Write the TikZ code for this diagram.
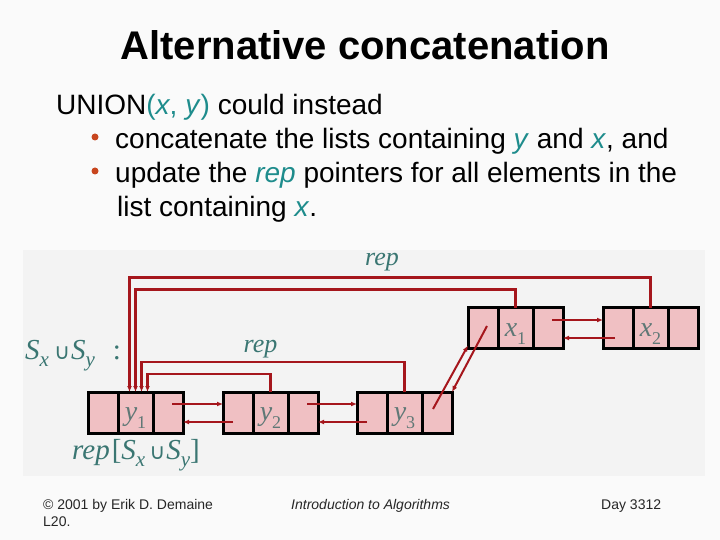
\documentclass[tikz,border=0pt]{standalone}
\usepackage{fontspec}
\setmainfont{Liberation Sans}
\newfontfamily\tms{Liberation Serif}
\newfontfamily\djv{DejaVu Sans}
\usetikzlibrary{arrows.meta,calc}
\definecolor{repred}{RGB}{165,22,28}
\definecolor{pinkc}{RGB}{240,192,195}
\definecolor{labteal}{RGB}{58,118,114}
\definecolor{cellgray}{RGB}{95,120,118}
\definecolor{bodyteal}{RGB}{30,140,140}
\definecolor{bulletc}{RGB}{200,70,30}
\definecolor{bgc}{RGB}{250,250,250}
\definecolor{panelc}{RGB}{243,243,243}
\newcommand\listelem[4]{%
  \node[cell,minimum width=30] (#1a) at (#2+15,#3) {};
  \node[cell,minimum width=35] (#1b) at (#2+47.5,#3) {};
  \node[cell,minimum width=30] (#1c) at (#2+80,#3) {};
  \node[celltext,anchor=base] (#1t) at ($(#1b.center)+(0,8)$) {#4};
}
\newcommand\celllab[2]{\textit{#1}\raisebox{-8pt}{\fontsize{18}{18}\selectfont #2}}
\newcommand\subx[1]{\raisebox{-7pt}{\fontsize{21}{21}\selectfont\textit{#1}}}
\newcommand\cupsym{{\djv\fontsize{22}{22}\selectfont ∪}}
\begin{document}
\begin{tikzpicture}[x=1pt,y=-1pt,
  cell/.style={draw=black,line width=3pt,fill=pinkc,minimum height=41,inner sep=0pt,outer sep=0pt},
  celltext/.style={font=\tms\fontsize{28}{28}\selectfont,text=cellgray,inner sep=0pt},
  lab/.style={font=\tms\fontsize{26}{26}\selectfont,text=labteal,inner sep=0pt},
  biglab/.style={font=\tms\fontsize{29}{29}\selectfont,text=labteal,inner sep=0pt},
  repline/.style={draw=repred,line width=2.5pt,-{Latex[length=6pt,width=5pt]}},
  ptr/.style={draw=repred,line width=2pt,-{Latex[length=6pt,width=5pt]}},
  body/.style={font=\fontsize{28}{34}\selectfont,inner sep=0pt,anchor=base west},
  foot/.style={font=\fontsize{14}{16}\selectfont,text=black!85,inner sep=0pt,anchor=base west},
  bul/.style={fill=bulletc,circle,inner sep=0pt,minimum size=7}
]
\fill[bgc] (0,0) rectangle (720,540);
\useasboundingbox (0,0) rectangle (720,540);
\fill[panelc] (23,250) rectangle (705,476);

% title
\node[font=\bfseries\fontsize{40}{48}\selectfont,inner sep=0pt,anchor=base] (title) at (365,60) {Alternative concatenation};

% body text
\node[body] (l1) at (56,115) {UNION\textcolor{bodyteal}{(\textit{x}, \textit{y})} could instead};
\node[bul] (b1) at (95,137) {};
\node[body] (l2) at (115,149) {concatenate the lists containing \textcolor{bodyteal}{\textit{y}} and \textcolor{bodyteal}{\textit{x}}, and};
\node[bul] (b2) at (95,171) {};
\node[body] (l3) at (115,183) {update the \textcolor{bodyteal}{\textit{rep}} pointers for all elements in the};
\node[body] (l4) at (117,217) {list containing \textcolor{bodyteal}{\textit{x}}.};

% list elements
\listelem{y1}{88}{412.5}{\celllab{y}{1}}
\listelem{y2}{223}{412.5}{\celllab{y}{2}}
\listelem{y3}{357}{412.5}{\celllab{y}{3}}
\listelem{x1}{468}{328}{\celllab{x}{1}}
\listelem{x2}{603}{328}{\celllab{x}{2}}

% rep pointers
\draw[repline] (x2b.north) -- ++(0,-30) -| ($(y1b.north)+(-6,0)$);
\draw[repline] (x1b.north) -- ++(0,-18) -| (y1b.north);
\draw[repline] (y3b.north) -- ++(0,-30) -| ($(y1b.north)+(6,0)$);
\draw[repline] (y2b.north) -- ++(0,-18) -| ($(y1b.north)+(12,0)$);

% next / prev pointers
\draw[ptr] ($(y1c.center)+(4,-8.5)$) -- ($(y2a.west)+(0,-8.5)$);
\draw[ptr] ($(y2a.center)+(-5,9.5)$) -- ($(y1c.east)+(0,9.5)$);
\draw[ptr] ($(y2c.center)+(4,-8.5)$) -- ($(y3a.west)+(0,-8.5)$);
\draw[ptr] ($(y3a.center)+(-5,9.5)$) -- ($(y2c.east)+(0,9.5)$);
\draw[ptr] ($(x1c.center)+(4,-8)$) -- ($(x2a.west)+(0,-8)$);
\draw[ptr] ($(x2a.center)+(-3,10)$) -- ($(x1c.east)+(0,10)$);
\draw[ptr] ($(y3c.center)+(-4,-3.5)$) -- ($(x1a.south west)+(0,-3)$);
\draw[ptr] ($(x1a.center)+(4,-2)$) -- (y3c.north east);

% labels
\node[lab,anchor=base] (rep1) at (382,265) {\textit{rep}};
\node[lab,anchor=base] (rep2) at (260.5,352) {\textit{rep}};
\node[biglab,anchor=base west] (suni) at (25,359) {\textit{S}\subx{x}\hspace{5pt}\cupsym\hspace{1pt}\textit{S}\subx{y}\hspace{18pt}:};
\node[biglab,anchor=base west] (repu) at (72,459) {\textit{rep}\hspace{2pt}[\textit{S}\subx{x}\hspace{4pt}\cupsym\hspace{1pt}\textit{S}\subx{y}]};

% footer
\node[foot] (f1) at (43,509) {© 2001 by Erik D. Demaine};
\node[foot] (f2) at (43,526) {L20.};
\node[foot,font=\itshape\fontsize{14}{16}\selectfont] (f3) at (291,509) {Introduction to Algorithms};
\node[foot] (f4) at (601,509) {Day 3312};
\end{tikzpicture}
\end{document}
